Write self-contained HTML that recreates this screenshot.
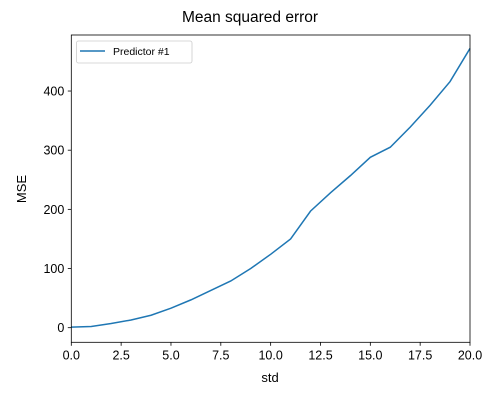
<!DOCTYPE html>
<html><head><meta charset="utf-8"><style>
body{margin:0;background:#fff;font-family:"Liberation Sans","DejaVu Sans",sans-serif}
</style></head><body>
<svg id="chart" width="500" height="400" xmlns="http://www.w3.org/2000/svg">
<rect width="500" height="400" fill="#fff"/>
<text x="250" y="22" text-anchor="middle" font-size="15.5">Mean squared error</text>
<g id="axes"></g>
<text x="270" y="382" text-anchor="middle" font-size="13">std</text>
<text transform="translate(26,189) rotate(-90)" text-anchor="middle" font-size="13">MSE</text>
</svg>
<script>
const xValues=[0,1,2,3,4,5,6,7,8,9,10,11,12,13,14,15,16,17,18,19,20];
const mseValues=[1,2,7,13,21,33,47,63,79,100,124,150,197,228,257,288,305,339,376,416,472];
const xTicks=[0,2.5,5,7.5,10,12.5,15,17.5,20];
const xTickLabels=["0.0","2.5","5.0","7.5","10.0","12.5","15.0","17.5","20.0"];
const yTicks=[0,100,200,300,400];
const seriesName="Predictor #1";

const L=71.3,R=470,T=35,B=342.3;
const xMin=0,xMax=20,yMin=-24.7,yMax=494.7;
const sx=v=>L+(v-xMin)/(xMax-xMin)*(R-L);
const sy=v=>B-(v-yMin)/(yMax-yMin)*(B-T);
const NS="http://www.w3.org/2000/svg";
const g=document.getElementById('axes');
function mk(t,a){const e=document.createElementNS(NS,t);for(const k in a)e.setAttribute(k,a[k]);g.appendChild(e);return e;}

const pts=xValues.map((x,i)=>sx(x).toFixed(2)+','+sy(mseValues[i]).toFixed(2)).join(' ');
const line=mk('polyline',{points:pts,fill:'none',stroke:'#1f77b4','stroke-width':1.5});



const frame=mk('rect',{x:L,y:T,width:R-L,height:B-T,fill:'none',stroke:'#000','stroke-width':0.8});



xTicks.forEach((v,i)=>{
  const x=sx(v);
  const tk=mk('line',{x1:x,x2:x,y1:B,y2:B+3.5,stroke:'#000','stroke-width':0.8});
  
  
  const t=mk('text',{x:x,y:B+17,'text-anchor':'middle','font-size':12.5});
  t.textContent=xTickLabels[i];
  
  
});
yTicks.forEach(v=>{
  const y=sy(v);
  const tk=mk('line',{x1:L-3.5,x2:L,y1:y,y2:y,stroke:'#000','stroke-width':0.8});
  
  
  const t=mk('text',{x:L-7,y:y+4.5,'text-anchor':'end','font-size':12.5});
  t.textContent=String(v);
  
  
});

const lg=mk('rect',{x:76.5,y:41,width:115.5,height:22,rx:2,fill:'#fff',stroke:'#ccc','stroke-width':0.8});


const ll=mk('line',{x1:80,x2:105,y1:51,y2:51,stroke:'#1f77b4','stroke-width':1.5});


const lt=mk('text',{x:113,y:55,'font-size':10.5});
lt.textContent=seriesName;


</script>
</body></html>
